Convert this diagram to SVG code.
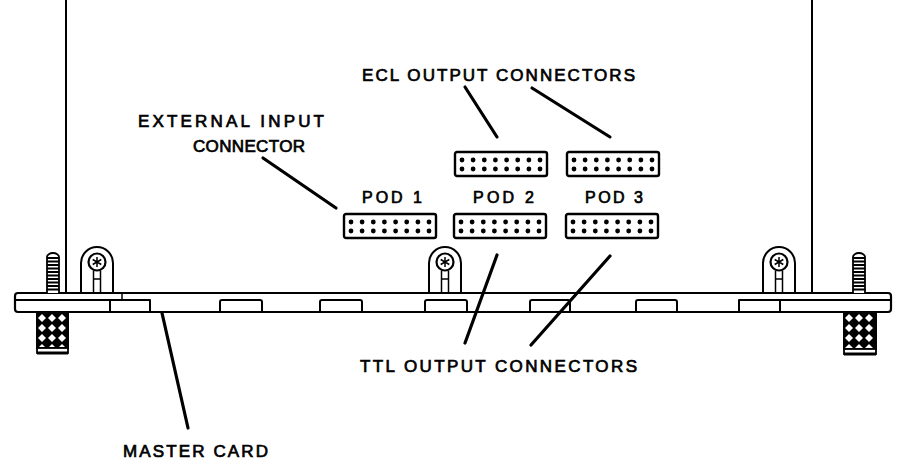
<svg xmlns="http://www.w3.org/2000/svg" xmlns:xlink="http://www.w3.org/1999/xlink" width="898" height="462" viewBox="0 0 898 462">
<style>
.ln{fill:none;stroke:#000;stroke-width:2;stroke-linecap:round;stroke-linejoin:round}
.thin{fill:none;stroke:#000;stroke-width:1.5}
.lead{fill:none;stroke:#000;stroke-width:3.2;stroke-linecap:round}
.lbl{font-family:"Liberation Sans",Arial,sans-serif;font-size:17px;fill:#000;stroke:#000;stroke-width:0.7}
.pod{font-family:"Liberation Sans",Arial,sans-serif;font-size:16px;fill:#000;stroke:#000;stroke-width:0.7}
.pin{fill:#000}
</style>
<defs>
<pattern id="knurl" patternUnits="userSpaceOnUse" x="37" y="313" width="10" height="10">
<rect width="10" height="10" fill="#000"/>
<polygon points="5,1 9,5 5,9 1,5" fill="#fff"/>
</pattern>
<pattern id="knurl2" patternUnits="userSpaceOnUse" x="844" y="313" width="10" height="10">
<rect width="10" height="10" fill="#000"/>
<polygon points="5,1 9,5 5,9 1,5" fill="#fff"/>
</pattern>
<g id="pinrow">
<circle class="pin" cx="7" cy="0" r="2.4"/><circle class="pin" cx="18.1" cy="0" r="2.4"/><circle class="pin" cx="29.3" cy="0" r="2.4"/><circle class="pin" cx="40.4" cy="0" r="2.4"/><circle class="pin" cx="51.6" cy="0" r="2.4"/><circle class="pin" cx="62.7" cy="0" r="2.4"/><circle class="pin" cx="73.9" cy="0" r="2.4"/><circle class="pin" cx="85" cy="0" r="2.4"/>
</g>
<g id="conn">
<rect x="0" y="0" width="92" height="24" rx="2" fill="#fff" stroke="#000" stroke-width="2.4"/>
<use xlink:href="#pinrow" y="8"/>
<use xlink:href="#pinrow" y="17"/>
</g>
<g id="bracket">
<path class="ln" d="M-16,0 V-30 A16,16 0 0 1 16,-30 V0"/>
<circle cx="0" cy="-31" r="8.5" fill="#fff" stroke="#000" stroke-width="2.2"/>
<path class="thin" d="M0,-36 V-26 M-4.3,-33.5 L4.3,-28.5 M-4.3,-28.5 L4.3,-33.5"/>
<path class="thin" d="M-3.5,0 V-22 M3.5,0 V-22 M-3.5,-14 H3.5"/>
</g>
<g id="stud">
<path d="M-6,0 V-36 A6,4 0 0 1 6,-36 V0" fill="#fff" stroke="#000" stroke-width="1.8"/>
<path d="M-6,-35 H6 M-6,-31.5 H6 M-6,-28 H6 M-6,-24.5 H6 M-6,-21 H6 M-6,-17.5 H6 M-6,-14 H6 M-6,-10.5 H6 M-6,-7 H6 M-6,-3.5 H6" stroke="#000" stroke-width="1.8"/>
</g>
</defs>

<g id="frame">
<line x1="66" y1="0" x2="66" y2="293" stroke="#000" stroke-width="2"/>
<line x1="812" y1="0" x2="812" y2="293" stroke="#000" stroke-width="2"/>
</g>

<g id="master-card">
<rect x="15" y="293" width="876" height="19" rx="3" fill="#fff" stroke="#000" stroke-width="2.2"/>
<path class="ln" d="M15,300 H150 V312 M110,300 V312"/>
<path class="ln" d="M739,312 V300 H891 M780,300 V312"/>
<path class="ln" d="M220,312 V302 Q220,300 222,300 H260 Q262,300 262,302 V312"/>
<path class="ln" d="M320,312 V302 Q320,300 322,300 H360 Q362,300 362,302 V312"/>
<path class="ln" d="M425,312 V302 Q425,300 427,300 H465 Q467,300 467,302 V312"/>
<path class="ln" d="M530,312 V302 Q530,300 532,300 H568 Q570,300 570,302 V312"/>
<path class="ln" d="M636,312 V302 Q636,300 638,300 H675 Q677,300 677,302 V312"/>
<line x1="122" y1="293" x2="122" y2="300" stroke="#000" stroke-width="1.5"/>
</g>

<g id="bracket-left"><use xlink:href="#bracket" x="97" y="293"/></g>
<g id="bracket-center"><use xlink:href="#bracket" x="445" y="293"/></g>
<g id="bracket-right"><use xlink:href="#bracket" x="779" y="293"/></g>

<g id="stud-left"><use xlink:href="#stud" x="53" y="293"/></g>
<g id="stud-right"><use xlink:href="#stud" x="859" y="293"/></g>

<g id="knob-left">
<rect x="37" y="313" width="31" height="35" fill="url(#knurl)" stroke="#000" stroke-width="2"/>
<rect x="37" y="348" width="31" height="5" fill="#fff" stroke="#000" stroke-width="1.8"/>
<line x1="37" y1="353" x2="68" y2="353" stroke="#000" stroke-width="3"/>
</g>
<g id="knob-right">
<rect x="844" y="313" width="32" height="36" fill="url(#knurl2)" stroke="#000" stroke-width="2"/>
<rect x="844" y="349" width="32" height="5" fill="#fff" stroke="#000" stroke-width="1.8"/>
<line x1="844" y1="354" x2="876" y2="354" stroke="#000" stroke-width="3"/>
</g>

<g id="pod1-ext-connector"><use xlink:href="#conn" x="344" y="214"/></g>
<g id="pod2-ttl-connector"><use xlink:href="#conn" x="454" y="214"/></g>
<g id="pod3-ttl-connector"><use xlink:href="#conn" x="566" y="214"/></g>
<g id="pod2-ecl-connector"><use xlink:href="#conn" x="455" y="152"/></g>
<g id="pod3-ecl-connector"><use xlink:href="#conn" x="567" y="152"/></g>

<g id="labels">
<text class="lbl" x="138" y="127" textLength="186" lengthAdjust="spacing">EXTERNAL INPUT</text>
<text class="lbl" x="193" y="152" textLength="112" lengthAdjust="spacing">CONNECTOR</text>
<text class="lbl" x="362" y="81" textLength="273" lengthAdjust="spacing">ECL OUTPUT CONNECTORS</text>
<text class="lbl" x="360" y="372" textLength="277" lengthAdjust="spacing">TTL OUTPUT CONNECTORS</text>
<text class="lbl" x="123" y="457" textLength="145" lengthAdjust="spacing">MASTER CARD</text>
<text class="pod" x="362" y="203" textLength="60" lengthAdjust="spacing">POD 1</text>
<text class="pod" x="473" y="203" textLength="61" lengthAdjust="spacing">POD 2</text>
<text class="pod" x="585" y="203" textLength="58" lengthAdjust="spacing">POD 3</text>
</g>

<g id="connectors">
<line class="lead" x1="263" y1="158" x2="336" y2="208"/>
<line class="lead" x1="465" y1="87" x2="497" y2="137"/>
<line class="lead" x1="532" y1="88" x2="610" y2="137"/>
<line class="lead" x1="497" y1="255" x2="465" y2="343"/>
<line class="lead" x1="610" y1="256" x2="531" y2="345"/>
<line class="lead" x1="162" y1="313" x2="188" y2="428"/>
</g>
</svg>
